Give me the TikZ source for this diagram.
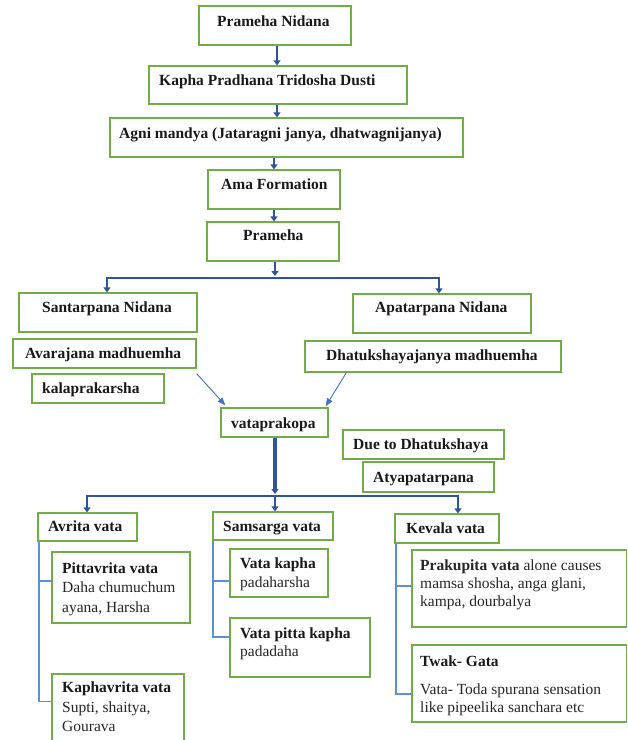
\documentclass[tikz,border=0pt]{standalone}
\usepackage{fontspec}
\setmainfont{Liberation Serif}
\usetikzlibrary{arrows.meta,calc}
\definecolor{boxgreen}{HTML}{70AD47}
\definecolor{darkblue}{HTML}{2F5597}
\definecolor{lightblue}{HTML}{4472C4}
\definecolor{treeblue}{HTML}{5B8FD6}
\tikzset{
  box/.style={draw=boxgreen, line width=1.2pt, fill=white, inner sep=0pt, rectangle},
  lbl/.style={anchor=base west, inner sep=0pt, font=\fontsize{15.5}{19}\selectfont\bfseries, text=black!90},
  lblr/.style={anchor=base west, inner sep=0pt, font=\fontsize{15.5}{19}\selectfont, text=black!85},
  darr/.style={draw=darkblue, line width=2.2pt, -{Triangle[width=7pt,length=5pt]}},
  dline/.style={draw=darkblue, line width=2.4pt, line cap=rect},
  larr/.style={draw=lightblue, line width=0.9pt, -{Triangle[width=6pt,length=8pt]}},
  tree/.style={draw=treeblue, line width=1.1pt},
}
\newcommand{\mybox}[5]{\node[box, minimum width={#4-#2}, minimum height={#5-#3}] (#1) at ({(#2+#4)/2},{(#3+#5)/2}) {};}
\begin{document}
\begin{tikzpicture}[x=1pt,y=-1pt]
\useasboundingbox (0,0) rectangle (628,740);
\fill[white] (0,0) rectangle (628,740);
\clip (0,0) rectangle (628,740);

% boxes
\mybox{pn}{199}{6}{351}{45}
\mybox{kp}{149}{66}{407}{104}
\mybox{am}{110}{118}{463}{157}
\mybox{af}{208}{170}{340}{209}
\mybox{pr}{207}{222}{339}{261}
\mybox{sn}{19}{293}{197}{332}
\mybox{ap}{353}{294}{531}{333}
\mybox{av}{13}{339}{196}{368}
\mybox{dj}{305}{341}{561}{372}
\mybox{kl}{32}{374}{164}{403}
\mybox{vp}{221}{408}{328}{437}
\mybox{dd}{343}{430}{504}{459}
\mybox{at}{363}{462}{494}{492}
\mybox{avr}{38}{513}{137}{541}
\mybox{ss}{213}{512}{333}{540}
\mybox{kv}{395}{514}{499}{543}
\mybox{pv}{52}{552}{190}{623}
\mybox{kph}{52}{674}{184}{748}
\mybox{vk}{230}{549}{328}{597}
\mybox{vpk}{230}{618}{370}{677}
\mybox{pk}{412}{550}{626.5}{627}
\mybox{tg}{412}{645}{626.5}{722}

% labels
\node[lbl] (tpn) at (217,26) {Prameha Nidana};
\node[lbl] (tkp) at (159,85) {Kapha Pradhana Tridosha Dusti};
\node[lbl] (tam) at (119,138) {Agni mandya (Jataragni janya, dhatwagnijanya)};
\node[lbl] (taf) at (221,189) {Ama Formation};
\node[lbl] (tpr) at (243,240) {Prameha};
\node[lbl] (tsn) at (42,312) {Santarpana Nidana};
\node[lbl] (tap) at (375,312) {Apatarpana Nidana};
\node[lbl] (tav) at (25,358) {Avarajana madhuemha};
\node[lbl] (tdj) at (326,360) {Dhatukshayajanya madhuemha};
\node[lbl] (tkl) at (42,393) {kalaprakarsha};
\node[lbl] (tvp) at (231,428) {vataprakopa};
\node[lbl] (tdd) at (353,449) {Due to Dhatukshaya};
\node[lbl] (tat) at (373,482) {Atyapatarpana};
\node[lbl] (tavr) at (48,531) {Avrita vata};
\node[lbl] (tss) at (223,531) {Samsarga vata};
\node[lbl] (tkv) at (406,533) {Kevala vata};
\node[lbl] (tpv1) at (62,573) {Pittavrita vata};
\node[lblr] (tpv2) at (62,592) {Daha chumuchum};
\node[lblr] (tpv3) at (62,612) {ayana, Harsha};
\node[lbl] (tkph1) at (62,692) {Kaphavrita vata};
\node[lblr] (tkph2) at (62,712) {Supti, shaitya,};
\node[lblr] (tkph3) at (62,731) {Gourava};
\node[lbl] (tvk1) at (240,568) {Vata kapha};
\node[lblr] (tvk2) at (240,587) {padaharsha};
\node[lbl] (tvpk1) at (240,638) {Vata pitta kapha};
\node[lblr] (tvpk2) at (240,656) {padadaha};
\node[lblr] (tpk1) at (420,570) {\textbf{Prakupita vata} alone causes};
\node[lblr] (tpk2) at (420,588) {mamsa shosha, anga glani,};
\node[lblr] (tpk3) at (420,606) {kampa, dourbalya};
\node[lbl] (ttg1) at (420,666) {Twak- Gata};
\node[lblr] (ttg2) at (420,694) {Vata- Toda spurana sensation};
\node[lblr] (ttg3) at (420,712) {like pipeelika sanchara etc};

% reference coordinates for connectors
\coordinate (c1) at (277,0);
\coordinate (c3) at (274,0);
\coordinate (c5) at (275,0);
\coordinate (bL) at (107,278);
\coordinate (bR) at (439,278);
\coordinate (b2L) at (87,496);
\coordinate (b2R) at (458,496);
\coordinate (t1) at (39,0);
\coordinate (t2) at (213,0);
\coordinate (t3) at (396,0);

% main chain
\draw[darr] (pn.south -| c1) -- (kp.north -| c1);
\draw[darr] (kp.south -| c1) -- (am.north -| c1);
\draw[darr] (am.south -| c3) -- (af.north -| c3);
\draw[darr] (af.south -| c3) -- (pr.north -| c3);
\draw[darr] (pr.south -| c5) -- ($(c5 |- bL)+(0,-2)$);
\draw[dline] (bL) -- (bR);
\draw[darr] (bL) -- (sn.north -| bL);
\draw[darr] (bR) -- (ap.north -| bR);

% thin arrows to vataprakopa
\draw[larr] ($(av.south east)+(0,5)$) -- ($(vp.north west)+(5,-2)$);
\draw[larr] ($(dj.south west)+(42,0)$) -- ($(vp.north east)+(-3,-1)$);

% vataprakopa branching
\draw[darr, line width=3.6pt] (vp.south -| c5) -- ($(c5 |- b2L)+(0,-2)$);
\draw[dline] (b2L) -- (b2R);
\draw[darr] (b2L) -- (avr.north -| b2L);
\draw[darr] (c5 |- b2L) -- (ss.north -| c5);
\draw[darr] (b2R) -- (kv.north -| b2R);

% tree lines
\draw[tree] (avr.south -| t1) -- ($(t1 |- kph.west)+(0,-9.5)$) -- ($(kph.west)+(0,-9.5)$);
\draw[tree] ($(t1 |- pv.west)+(0,-6.5)$) -- ($(pv.west)+(0,-6.5)$);
\draw[tree] (ss.south -| t2) -- ($(t2 |- vpk.west)+(0,-10.5)$) -- ($(vpk.west)+(0,-10.5)$);
\draw[tree] ($(t2 |- vk.west)+(0,8)$) -- ($(vk.west)+(0,8)$);
\draw[tree] (kv.south -| t3) -- ($(t3 |- tg.west)+(0,10.5)$) -- ($(tg.west)+(0,10.5)$);
\draw[tree] ($(t3 |- pk.west)+(0,-2.5)$) -- ($(pk.west)+(0,-2.5)$);
\end{tikzpicture}
\end{document}
